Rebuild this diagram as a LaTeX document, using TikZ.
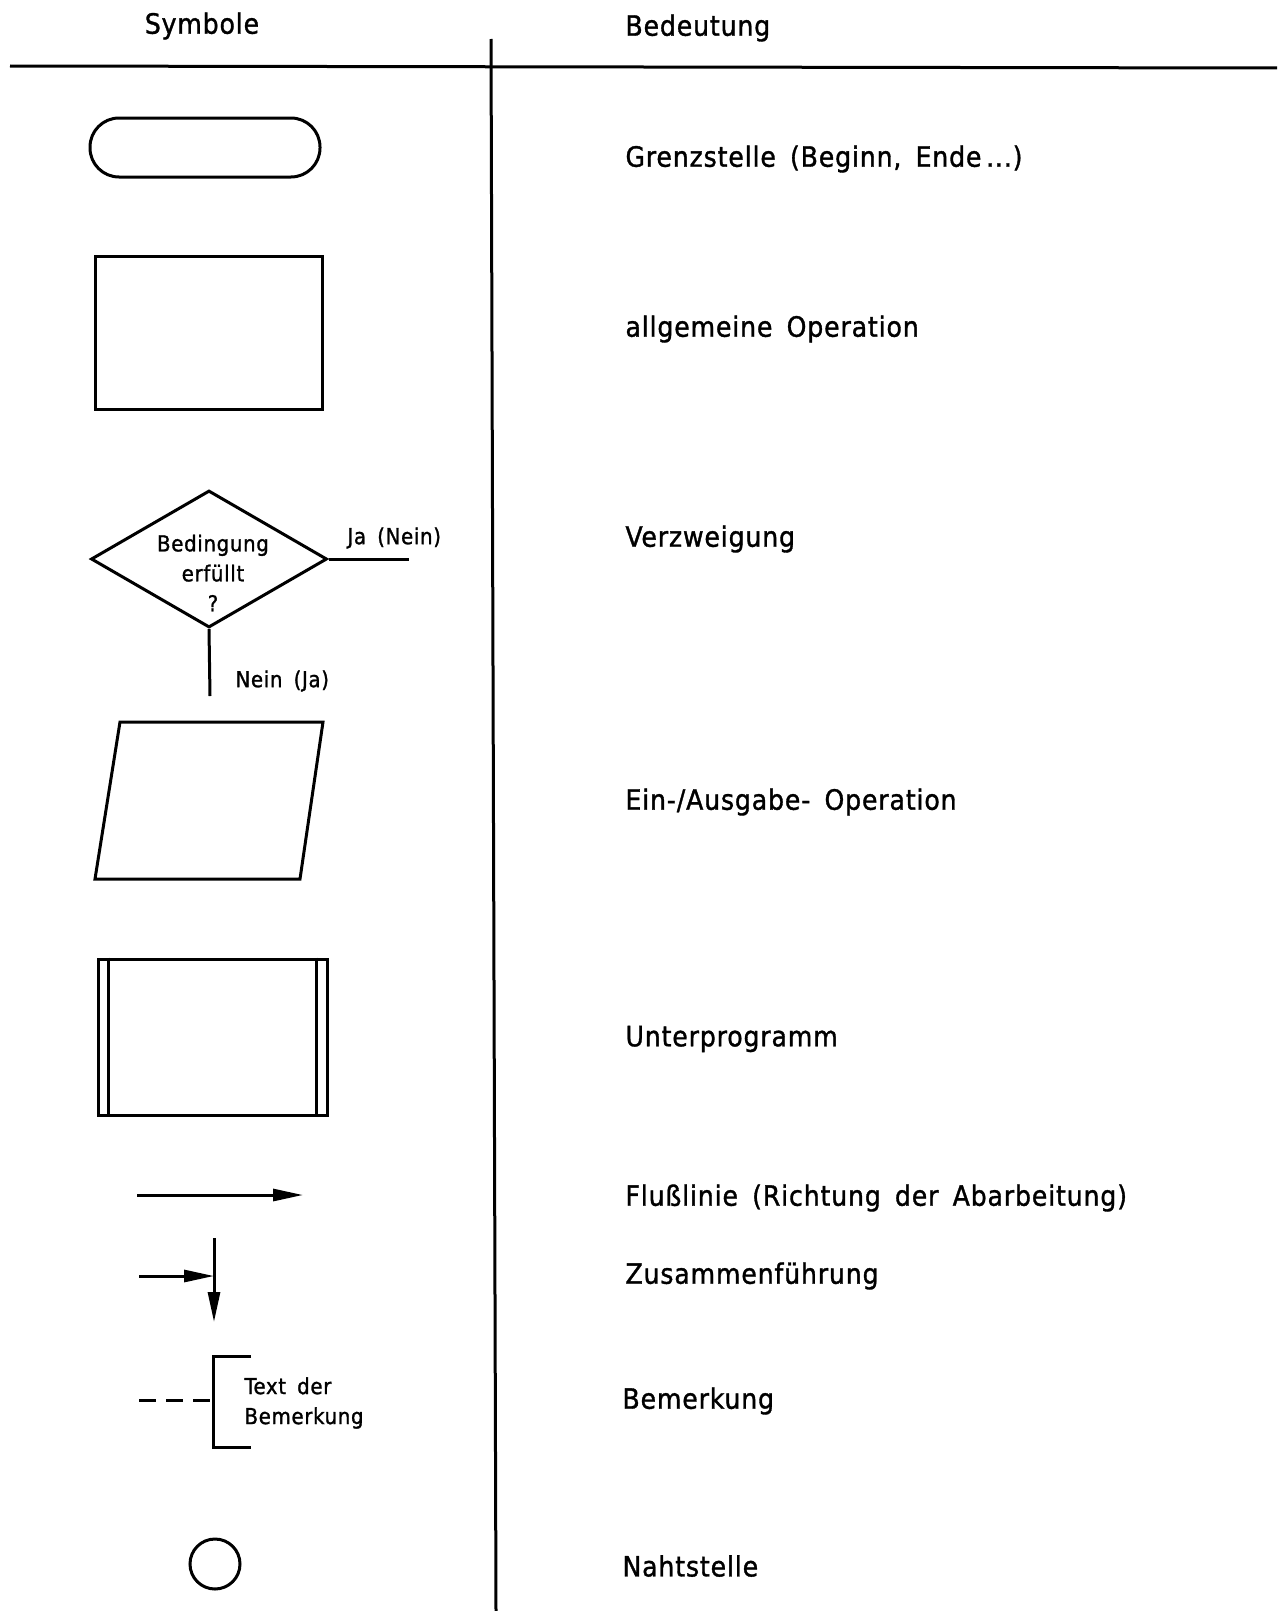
\documentclass[tikz,border=0pt]{standalone}
\usepackage{fontspec}
\setmainfont{DejaVu Sans Condensed}[FakeBold=1.2,LetterSpace=3,WordSpace=1.6]
\usetikzlibrary{arrows.meta,shapes.geometric}
\begin{document}
\begin{tikzpicture}[x=1pt,y=-1pt,line width=3pt,
  big/.style={font=\fontsize{28}{32}\selectfont,anchor=west,inner sep=0pt},
  small/.style={font=\fontsize{22}{30}\selectfont,inner sep=0pt},
  flow/.style={-{Triangle[length=30pt,width=12pt]}}]
\useasboundingbox (0,0) rectangle (1277,1611);
\fill[white] (0,0) rectangle (1277,1611);
% header
\node[big,anchor=center] (hsym) at (202,26) {Symbole};
\node[big] (hbed) at (624,28) {Bedeutung};
\coordinate (r1) at (10,66);
\coordinate (r2) at (1277,68);
\draw (r1) -- (r2);
\coordinate (v1) at (491,39);
\coordinate (v2) at (496,1611);
\draw (v1) -- (v2);
% Grenzstelle
\node[draw,rectangle,rounded corners=29pt,minimum width=230pt,minimum height=59pt] (term) at (205,147.5) {};
\node[big] (tterm) at (624,159) {Grenzstelle (Beginn, Ende\,...)};
% Operation
\node[draw,rectangle,minimum width=227pt,minimum height=153pt] (op) at (208.5,332.5) {};
\node[big] (top) at (624,329) {allgemeine Operation};
% Verzweigung
\node[draw,diamond,minimum width=236pt,minimum height=137pt,inner sep=0pt] (dec) at (209,559) {};
\node[small,align=center] (dectext) at (213,573) {Bedingung\\erfüllt\\?};
\coordinate (ja) at (409,559);
\draw (dec.east) -- (ja);
\node[small,anchor=west] (jatext) at (346,538) {Ja (Nein)};
\coordinate (nein) at (210,696);
\draw (dec.south) -- (nein);
\node[small,anchor=west] (neintext) at (234,681) {Nein (Ja)};
\node[big] (tdec) at (624,539) {Verzweigung};
% Ein-/Ausgabe
\coordinate (p1) at (120,722);
\coordinate (p2) at (323,722);
\coordinate (p3) at (300,879);
\coordinate (p4) at (95,879);
\draw (p1) -- (p2) -- (p3) -- (p4) -- cycle;
\node[big] (tio) at (624,802) {Ein-/Ausgabe- Operation};
% Unterprogramm
\node[draw,rectangle,minimum width=229pt,minimum height=156pt] (sub) at (212.5,1037) {};
\draw ([xshift=12pt]sub.north west) -- ([xshift=12pt]sub.south west);
\draw ([xshift=-12pt]sub.north east) -- ([xshift=-12pt]sub.south east);
\node[big] (tsub) at (624,1039) {Unterprogramm};
% Flusslinie
\coordinate (f1) at (137,1195);
\coordinate (f2) at (303,1195);
\draw[flow] (f1) -- (f2);
\node[big] (tflow) at (624,1198) {Flußlinie (Richtung der Abarbeitung)};
% Zusammenfuehrung
\coordinate (m1) at (214,1238);
\coordinate (m2) at (214,1322);
\draw[flow] (m1) -- (m2);
\coordinate (m3) at (139,1276);
\draw[flow] (m3) -- (m1 |- m3);
\node[big] (tmerge) at (624,1276) {Zusammenführung};
% Bemerkung
\coordinate (b1) at (251,1356);
\coordinate (b2) at (213,1356);
\coordinate (b3) at (213,1447);
\coordinate (b4) at (251,1447);
\coordinate (b5) at (213,1400);
\coordinate (b6) at (139,1400);
\draw (b1) -- (b2) -- (b3) -- (b4);
\draw[dash pattern=on 17pt off 10pt] (b6) -- (b5);
\node[small,anchor=west,align=left] (btext) at (243,1403) {Text der\\Bemerkung};
\node[big] (tbem) at (621,1401) {Bemerkung};
% Nahtstelle
\node[draw,circle,minimum size=50pt,inner sep=0pt] (naht) at (215,1564) {};
\node[big] (tnaht) at (621,1566) {Nahtstelle};
\end{tikzpicture}
\end{document}
